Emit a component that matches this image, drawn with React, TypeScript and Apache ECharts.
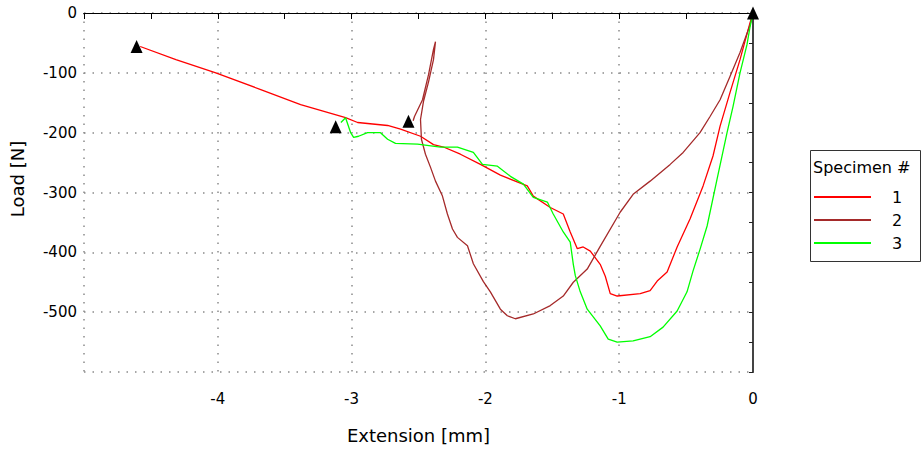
import React, { useEffect, useRef } from "react";
import * as echarts from "echarts";

// Specimen 1 (red)
const ext1 = [-4.58, -4.313, -4.015, -3.679, -3.381, -3.045, -2.955, -2.731, -2.634, -2.485, -2.388, -2.313, -2.187, -2.037, -1.888, -1.687, -1.642, -1.515, -1.418, -1.366, -1.313, -1.269, -1.216, -1.142, -1.104, -1.067, -1.015, -0.843, -0.769, -0.716, -0.642, -0.567, -0.47, -0.373, -0.299, -0.246, -0.172, -0.097, -0.022, 0];
const load1 = [-56, -78, -100, -128, -153, -175, -183, -188, -194, -206, -220, -224, -236, -253, -271, -289, -306, -325, -336, -366, -394, -391, -398, -420, -440, -469, -473, -469, -464, -448, -433, -391, -344, -289, -239, -189, -133, -78, -16, 0];

// Specimen 2 (dark red)
const ext2 = [-2.54, -2.53, -2.47, -2.425, -2.388, -2.373, -2.388, -2.425, -2.463, -2.485, -2.478, -2.448, -2.41, -2.373, -2.321, -2.284, -2.246, -2.209, -2.134, -2.09, -2.015, -1.963, -1.888, -1.836, -1.776, -1.642, -1.515, -1.418, -1.343, -1.239, -1.142, -0.993, -0.896, -0.769, -0.619, -0.522, -0.396, -0.321, -0.246, -0.172, -0.097, -0.022, 0];
const load2 = [-180, -173, -145, -103, -61, -48, -78, -115, -148, -178, -211, -236, -258, -281, -306, -336, -361, -375, -389, -419, -449, -466, -495, -506, -511, -503, -489, -473, -450, -428, -390, -333, -303, -281, -253, -233, -200, -173, -145, -106, -66, -20, 0];

// Specimen 3 (green)
const ext3 = [-3.08, -3.045, -3.007, -2.985, -2.948, -2.881, -2.784, -2.731, -2.672, -2.507, -2.336, -2.209, -2.09, -2.022, -1.91, -1.813, -1.716, -1.642, -1.537, -1.493, -1.418, -1.366, -1.343, -1.328, -1.291, -1.239, -1.194, -1.142, -1.082, -1.015, -0.896, -0.769, -0.672, -0.567, -0.493, -0.448, -0.396, -0.343, -0.269, -0.194, -0.149, -0.097, -0.045, -0.022, 0];
const load3 = [-183, -175, -200, -208, -206, -200, -200, -211, -218, -219, -224, -224, -233, -253, -256, -273, -286, -308, -316, -336, -366, -383, -420, -439, -466, -495, -508, -523, -545, -550, -548, -541, -525, -498, -466, -431, -395, -356, -278, -200, -156, -100, -53, -23, 0];

// Triangle markers
const markerX = [-4.607, -3.119, -2.575, 0];
const markerY = [-56, -190, -181, 0];

const seriesNames = ["1", "2", "3"];
const xTicks = [-5, -4, -3, -2, -1, 0];
const yTicks = [-600, -500, -400, -300, -200, -100, 0];

const pairs = (xs: number[], ys: number[]) => xs.map((x, i) => [x, ys[i]]);

export default function App() {
  const ref = useRef<HTMLDivElement>(null);
  useEffect(() => {
    if (!ref.current) return;
    const chart = echarts.init(ref.current, undefined, { renderer: "svg" });
    const font = "DejaVu Sans";
    const dotted = { color: "#8a8a8a", width: 1.5, type: [1.5, 7] as any };
    chart.setOption({
      animation: false,
      textStyle: { fontFamily: font },
      grid: { left: 84, right: 170, top: 13, bottom: 83 },
      xAxis: [
        {
          type: "value",
          min: xTicks[0],
          max: xTicks[xTicks.length - 1],
          interval: 1,
          axisLine: { lineStyle: { color: "#000", width: 1 } },
          axisTick: { show: true, length: 6, lineStyle: { color: "#000" } },
          minorTick: { show: true, splitNumber: 2, length: 6, lineStyle: { color: "#000" } },
          axisLabel: {
            margin: 19,
            fontSize: 15,
            color: "#000",
            fontFamily: font,
            formatter: (v: number) => (v === xTicks[0] ? "" : String(v)),
          },
          splitLine: { show: true, lineStyle: dotted },
          name: "Extension [mm]",
          nameLocation: "middle",
          nameGap: 54,
          nameTextStyle: { fontSize: 18, color: "#000", fontFamily: font },
        },
        {
          type: "value",
          position: "top",
          min: xTicks[0],
          max: xTicks[xTicks.length - 1],
          axisLine: { show: true, lineStyle: { color: "#000", width: 1 } },
          axisTick: { show: false },
          axisLabel: { show: false },
          splitLine: { show: false },
        },
      ],
      yAxis: [
        {
          type: "value",
          min: yTicks[0],
          max: yTicks[yTicks.length - 1],
          interval: 100,
          axisLine: { show: true, lineStyle: { color: "#7f7f7f", width: 2 } },
          axisTick: { show: true, length: 4, lineStyle: { color: "#222" } },
          minorTick: { show: true, splitNumber: 2, length: 4, lineStyle: { color: "#222" } },
          axisLabel: {
            margin: 7,
            fontSize: 15,
            color: "#000",
            fontFamily: font,
            formatter: (v: number) => (v === yTicks[0] ? "" : String(v)),
          },
          splitLine: { show: true, lineStyle: dotted },
        },
        {
          type: "value",
          position: "right",
          min: yTicks[0],
          max: yTicks[yTicks.length - 1],
          axisLine: { show: true, lineStyle: { color: "#444", width: 2 } },
          axisTick: { show: false },
          axisLabel: { show: false },
          splitLine: { show: false },
        },
      ],
      legend: {
        left: 808,
        top: 184,
        orient: "vertical",
        itemWidth: 57,
        itemHeight: 14,
        itemGap: 7,
        data: seriesNames,
        itemStyle: { opacity: 0 },
        textStyle: { fontSize: 16, color: "#000", fontFamily: font, padding: [0, 0, 0, 16] },
      },
      graphic: [
        {
          type: "rect",
          shape: { x: 810.5, y: 150.5, width: 110, height: 111 },
          style: { fill: "#fff", stroke: "#333", lineWidth: 1 },
          z: -1,
        },
        {
          type: "text",
          x: 813,
          y: 167,
          style: {
            text: "Specimen #",
            fontSize: 16,
            fontFamily: font,
            fill: "#000",
            textVerticalAlign: "middle",
          },
        },
        {
          type: "text",
          x: 17,
          y: 179,
          rotation: Math.PI / 2,
          style: {
            text: "Load [N]",
            fontSize: 18,
            fontFamily: font,
            fill: "#000",
            textAlign: "center",
            textVerticalAlign: "middle",
          },
        },
      ],
      series: [
        {
          name: seriesNames[0],
          type: "line",
          data: pairs(ext1, load1),
          symbol: "none",
          lineStyle: { color: "#ff0000", width: 1.3 },
          itemStyle: { color: "#ff0000" },
        },
        {
          name: seriesNames[1],
          type: "line",
          data: pairs(ext2, load2),
          symbol: "none",
          lineStyle: { color: "#a52a2a", width: 1.3 },
          itemStyle: { color: "#a52a2a" },
        },
        {
          name: seriesNames[2],
          type: "line",
          data: pairs(ext3, load3),
          symbol: "none",
          lineStyle: { color: "#00ff00", width: 1.3 },
          itemStyle: { color: "#00ff00" },
        },
        {
          name: "markers",
          type: "scatter",
          data: pairs(markerX, markerY),
          symbol: "triangle",
          symbolSize: [12, 13],
          itemStyle: { color: "#000", opacity: 1 },
          z: 5,
        },
      ],
    });
    return () => chart.dispose();
  }, []);
  return (
    <div
      ref={ref}
      style={{ position: "fixed", left: 0, top: 0, width: 923, height: 455, background: "#fff" }}
    />
  );
}
